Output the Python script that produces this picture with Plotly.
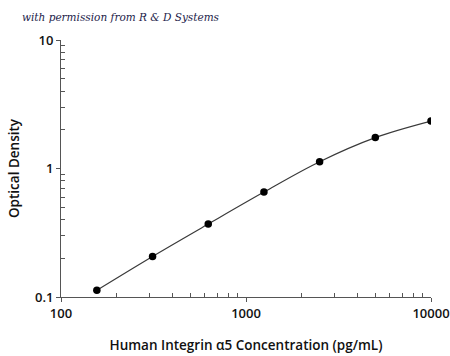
import plotly.graph_objects as go

concentration = [156.25, 312.5, 625, 1250, 2500, 5000, 10000]
optical_density = [0.113, 0.207, 0.370, 0.656, 1.13, 1.74, 2.34]

x_tickvals = [100, 1000, 10000]
x_ticktext = ["100", "1000", "10000"]
x_minor_tickvals = [m * d for d in (100, 1000) for m in range(2, 10)]
y_tickvals = [0.1, 1, 10]
y_ticktext = ["0.1", "1", "10"]
y_minor_tickvals = [m * d for d in (0.1, 1) for m in range(2, 10)]

font_family = "Open Sans"

fig = go.Figure()
fig.add_trace(go.Scatter(
    x=concentration, y=optical_density, mode="lines",
    line=dict(color="#3a3a3a", width=1.2, shape="spline", smoothing=1.0),
    hoverinfo="skip", showlegend=False))
fig.add_trace(go.Scatter(
    x=concentration, y=optical_density, mode="markers",
    marker=dict(color="black", size=7.5), showlegend=False))

axis_common = dict(
    showgrid=False, zeroline=False, showline=True, linecolor="#555555", linewidth=1,
    ticks="outside", ticklen=4, tickcolor="#555555", tickwidth=1, automargin=False,
    tickfont=dict(family=font_family, size=13, color="#111111", weight=600),
)
minor_common = dict(ticks="inside", ticklen=4, tickcolor="#555555", tickwidth=1,
                    tickmode="array", showgrid=False)

fig.update_xaxes(type="log", range=[2, 4], tickvals=x_tickvals, ticktext=x_ticktext,
                 minor=dict(tickvals=x_minor_tickvals, **minor_common),
                 title=dict(text="Human Integrin α5 Concentration (pg/mL)",
                            font=dict(family=font_family, size=13.5, color="#111111", weight=600),
                            standoff=19),
                 **axis_common)
fig.update_yaxes(type="log", range=[-1, 1], tickvals=y_tickvals, ticktext=y_ticktext,
                 minor=dict(tickvals=y_minor_tickvals, **minor_common),
                 title=dict(text="Optical Density",
                            font=dict(family=font_family, size=13.5, color="#111111", weight=600),
                            standoff=12),
                 **axis_common)

fig.add_annotation(text="with permission from R &amp; D Systems", xref="paper", yref="paper",
                   x=-0.11, y=1.09, xanchor="left", yanchor="middle", showarrow=False,
                   font=dict(family="DejaVu Serif", size=10.5, color="#1c1c4a", style="italic"))

fig.update_layout(width=450, height=356, margin=dict(l=61, r=19, t=40, b=59),
                  plot_bgcolor="white", paper_bgcolor="white")

fig.write_html("out.html", config={"displayModeBar": False},
               post_script="document.body.style.margin='0';")
